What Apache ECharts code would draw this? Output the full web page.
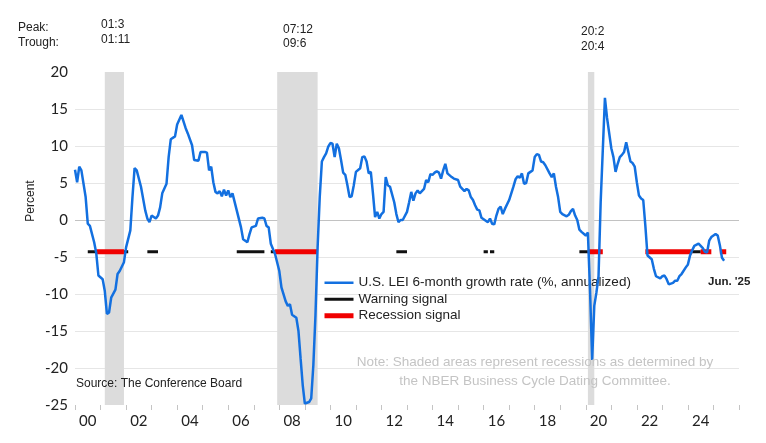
<!DOCTYPE html>
<html lang="en">
<head>
<meta charset="UTF-8">
<title>U.S. LEI 6-month growth rate</title>
<script src="https://cdn.jsdelivr.net/npm/echarts@6/dist/echarts.min.js"></script>
<style>
  html, body { margin: 0; padding: 0; background: #fff; }
  #chart { width: 766px; height: 443px; }
</style>
</head>
<body>
<div id="chart"></div>
<script>
// x axis labels, one per year (every other one shown)
const yearLabels = ['00','01','02','03','04','05','06','07','08','09','10','11','12',
                    '13','14','15','16','17','18','19','20','21','22','23','24','25'];

// U.S. LEI 6-month growth rate (%, annualized)
const leiMonths = [
  '2000-01','2000-02','2000-03','2000-04','2000-06','2000-07','2000-08','2000-10','2000-11','2000-12',
  '2001-02','2001-03','2001-04','2001-05','2001-06','2001-08','2001-09','2001-10','2001-12',
  '2002-01','2002-03','2002-04','2002-05','2002-06','2002-08','2002-10','2002-11','2002-12',
  '2003-01','2003-03','2003-04','2003-05','2003-06','2003-08','2003-09','2003-10','2003-12',
  '2004-01','2004-03','2004-05','2004-06','2004-08','2004-09','2004-11','2004-12',
  '2005-02','2005-03','2005-04','2005-05','2005-06','2005-07','2005-08','2005-09','2005-10','2005-11','2005-12',
  '2006-01','2006-02','2006-03','2006-05','2006-07','2006-08','2006-10','2006-11','2006-12',
  '2007-02','2007-03','2007-05','2007-06','2007-07','2007-08','2007-09','2007-11',
  '2008-01','2008-02','2008-04','2008-05','2008-06','2008-07','2008-09','2008-10','2008-11','2008-12',
  '2009-01','2009-03','2009-04','2009-05','2009-06','2009-07','2009-08','2009-09','2009-10','2009-11','2009-12',
  '2010-01','2010-02','2010-03','2010-04','2010-05','2010-06','2010-07','2010-08','2010-09','2010-10','2010-11','2010-12',
  '2011-01','2011-03','2011-04','2011-05','2011-06','2011-07','2011-08','2011-09','2011-10','2011-11','2011-12',
  '2012-01','2012-02','2012-03','2012-04','2012-05','2012-07','2012-08','2012-09','2012-10','2012-11',
  '2013-01','2013-02','2013-03','2013-04','2013-05','2013-06','2013-07','2013-09','2013-10','2013-11','2013-12',
  '2014-01','2014-02','2014-03','2014-04','2014-05','2014-06','2014-07','2014-08','2014-10','2014-11',
  '2015-01','2015-02','2015-03','2015-04','2015-05','2015-06','2015-07','2015-08','2015-09','2015-10','2015-11','2015-12',
  '2016-02','2016-03','2016-04','2016-05','2016-06','2016-07','2016-08','2016-09','2016-10','2016-11',
  '2017-01','2017-02','2017-03','2017-04','2017-05','2017-06','2017-07','2017-08','2017-09','2017-10','2017-11','2017-12',
  '2018-01','2018-02','2018-03','2018-04','2018-05','2018-06','2018-08','2018-09','2018-10','2018-11','2018-12',
  '2019-01','2019-02','2019-04','2019-05','2019-06','2019-07','2019-08','2019-09','2019-10','2019-11',
  '2020-01','2020-02','2020-03','2020-04','2020-05','2020-06','2020-07','2020-08','2020-10','2020-11',
  '2021-01','2021-02','2021-03','2021-04','2021-05','2021-06','2021-07','2021-08','2021-09','2021-10','2021-11','2021-12',
  '2022-01','2022-02','2022-03','2022-04','2022-05','2022-06','2022-08','2022-09','2022-10','2022-12',
  '2023-01','2023-02','2023-03','2023-04','2023-06','2023-07','2023-08','2023-09','2023-10','2023-12',
  '2024-01','2024-02','2024-03','2024-04','2024-06','2024-07','2024-08','2024-09','2024-10','2024-11','2024-12',
  '2025-02','2025-03','2025-04','2025-05','2025-06'
];
const leiValues = [
  6.8, 5.1, 7.2, 6.7, 3.1, -0.5, -0.8, -3.0, -4.5, -7.5,
  -8.0, -9.6, -12.7, -12.5, -10.5, -9.4, -7.3, -6.9, -5.7,
  -3.7, -1.4, 3.1, 7.0, 6.7, 4.5, 1.3, 0.2, -0.3,
  0.6, 0.2, 0.6, 1.7, 3.6, 4.9, 8.5, 10.9, 11.3,
  12.9, 14.2, 12.4, 11.7, 10.1, 8.1, 8.0, 9.2,
  9.2, 9.1, 6.7, 7.2, 5.1, 3.8, 3.6, 3.9, 3.2, 4.1, 3.3,
  4.0, 3.1, 3.6, 1.3, -1.0, -2.6, -3.0, -1.9, -1.0,
  -0.8, 0.2, 0.3, 0.2, -0.8, -1.0, -3.2, -4.6,
  -6.9, -9.1, -11.0, -11.6, -11.4, -12.8, -13.2, -15.0, -18.7, -22.3,
  -24.8, -24.6, -24.1, -19.6, -12.8, -3.7, 3.1, 7.9, 8.5, 9.0, 9.9,
  10.4, 10.3, 8.5, 10.3, 9.7, 8.1, 6.4, 6.1, 4.7, 3.1, 3.2, 4.7,
  6.5, 7.0, 8.5, 8.6, 7.9, 6.3, 6.5, 3.6, 0.4, 1.1, 0.2,
  0.8, 1.1, 5.8, 4.7, 4.5, 2.4, 0.8, -0.3, 0.0, 0.0,
  1.1, 2.4, 3.8, 2.6, 3.6, 4.0, 3.6, 4.2, 5.4, 5.1, 6.2,
  6.1, 6.4, 6.6, 6.4, 5.6, 6.7, 7.6, 6.3, 5.8, 5.6,
  5.4, 4.5, 4.2, 3.9, 4.2, 4.0, 3.1, 2.7, 2.0, 1.4, 1.3, 0.3,
  -0.1, -0.3, 0.2, -0.5, -0.6, 0.6, 1.5, 1.8, 0.8, 1.5,
  2.7, 3.6, 4.5, 5.5, 5.9, 5.7, 6.3, 4.9, 5.0, 6.3, 6.5, 6.7,
  8.5, 8.9, 8.8, 7.9, 7.8, 7.4, 6.3, 5.8, 6.3, 4.5, 3.1,
  1.1, 0.8, 0.5, 0.7, 1.2, 1.5, 0.6, 0.0, -1.3, -1.6,
  -2.1, -1.7, -9.5, -18.9, -11.6, -9.8, -7.6, 2.4, 16.5, 13.8,
  9.7, 8.5, 6.5, 7.6, 8.5, 8.8, 9.2, 10.5, 9.2, 7.9, 7.7, 7.2,
  5.1, 3.3, 2.9, 2.7, -0.8, -4.8, -5.3, -6.6, -7.6, -7.9,
  -7.6, -7.5, -8.0, -8.7, -8.5, -8.2, -8.2, -7.6, -7.3, -6.4,
  -6.0, -4.8, -4.1, -3.5, -3.2, -3.5, -3.8, -4.3, -4.4, -2.8, -2.3,
  -1.9, -2.1, -3.4, -5.1, -5.5
];

// NBER recessions (peak month, trough month)
const recessions = [['2001-03', '2001-11'], ['2007-12', '2009-06'], ['2020-02', '2020-04']];

// signal periods, drawn as bars at one level
const warningSignals = [
  ['2000-07', '2000-11'], ['2001-12', '2002-02'], ['2002-11', '2003-04'], ['2006-05', '2007-06'],
  ['2007-09', '2007-11'], ['2012-08', '2013-01'], ['2016-01', '2016-03'], ['2016-04', '2016-06'],
  ['2019-10', '2020-02'], ['2024-03', '2024-07']
];
const recessionSignals = [
  ['2000-11', '2001-12'], ['2007-11', '2009-07'], ['2020-02', '2020-09'],
  ['2022-05', '2024-03'], ['2024-07', '2024-12'], ['2025-04', '2025-07']
];
const signalLevel = -4.3;

function toYear(s) {
  const p = s.split('-');
  return +p[0] + (+p[1] - 1) / 12;
}

function segments(list) {
  const out = [];
  list.forEach(function (r) {
    out.push([toYear(r[0]), signalLevel], [toYear(r[1]), signalLevel], [toYear(r[1]), '-']);
  });
  return out;
}

const leiData = leiMonths.map(function (m, i) { return [toYear(m), leiValues[i]]; });

const chart = echarts.init(document.getElementById('chart'));

const txt = { fontFamily: 'Liberation Sans, Arial', fontSize: 12, fill: '#222' };
function label(x, y, text, extra) {
  return { type: 'text', left: x, top: y, z: 100, style: Object.assign({ text: text }, txt, extra || {}) };
}

const blue = '#1370e0';
const red = '#f00000';

const option = {
  animation: false,
  backgroundColor: '#fff',
  grid: { left: 75, right: 27, top: 72, bottom: 38 },
  legend: {
    data: [
      { name: 'U.S. LEI 6-month growth rate (%, annualized)', lineStyle: { color: blue, width: 2.5 } },
      { name: 'Warning signal', lineStyle: { color: '#111', width: 3 } },
      { name: 'Recession signal', lineStyle: { color: red, width: 5 } }
    ],
    orient: 'vertical',
    left: 322,
    top: 275,
    padding: 0,
    itemWidth: 29,
    itemHeight: 10,
    itemGap: 1,
    itemStyle: { opacity: 0 },
    textStyle: { fontFamily: 'Liberation Sans, Arial', fontSize: 13.5, color: '#222', lineHeight: 15.5 }
  },
  xAxis: [
    {
      type: 'category',
      data: yearLabels,
      boundaryGap: true,
      axisLine: { show: false, onZero: false },
      axisTick: { show: true, interval: 0, alignWithLabel: false, length: 5, lineStyle: { color: '#c4c4c4' } },
      axisLabel: { interval: 1, margin: 9, fontFamily: 'Lato', fontSize: 15, color: '#222' },
      splitLine: { show: false }
    },
    { type: 'value', min: 2000, max: 2026, show: false }
  ],
  yAxis: {
    type: 'value',
    min: -25,
    max: 20,
    interval: 5,
    axisLine: { show: false },
    axisTick: { show: false },
    axisLabel: { margin: 7, fontFamily: 'Lato', fontSize: 15, color: '#222' },
    splitLine: {
      lineStyle: {
        width: 1,
        color: ['rgba(0,0,0,0)', '#e6e6e6', '#e6e6e6', '#e6e6e6', '#e6e6e6', '#c2c2c2',
                '#e6e6e6', '#e6e6e6', '#e6e6e6', 'rgba(0,0,0,0)']
      }
    }
  },
  series: [
    {
      name: 'shade',
      type: 'line',
      xAxisIndex: 1,
      data: [],
      z: 1,
      markArea: {
        silent: true,
        itemStyle: { color: '#dcdcdc' },
        data: recessions.map(function (r) {
          return [{ xAxis: toYear(r[0]) }, { xAxis: toYear(r[1]) + 1 / 12 }];
        })
      }
    },
    {
      name: 'Warning signal',
      type: 'line',
      xAxisIndex: 1,
      data: segments(warningSignals),
      symbol: 'none',
      connectNulls: false,
      z: 3,
      lineStyle: { color: '#111', width: 3 },
      itemStyle: { color: '#111' }
    },
    {
      name: 'Recession signal',
      type: 'line',
      xAxisIndex: 1,
      data: segments(recessionSignals),
      symbol: 'none',
      connectNulls: false,
      z: 4,
      lineStyle: { color: red, width: 5 },
      itemStyle: { color: red }
    },
    {
      name: 'U.S. LEI 6-month growth rate (%, annualized)',
      type: 'line',
      xAxisIndex: 1,
      data: leiData,
      symbol: 'none',
      z: 5,
      lineStyle: { color: blue, width: 2.5 },
      itemStyle: { color: blue }
    }
  ],
  graphic: [
    label(18, 22, 'Peak:'),
    label(18, 37, 'Trough:'),
    label(101, 19, '01:3'),
    label(101, 34, '01:11'),
    label(283, 24, '07:12'),
    label(283, 38, '09:6'),
    label(581, 26, '20:2'),
    label(581, 41, '20:4'),
    {
      type: 'text', x: 31, y: 201, rotation: Math.PI / 2, z: 100,
      style: { text: 'Percent', fontFamily: 'Liberation Sans, Arial', fontSize: 12, fill: '#222', textAlign: 'center', textVerticalAlign: 'middle' }
    },
    label(76, 378, 'Source: The Conference Board'),
    label(708, 276, "Jun. '25", { fontWeight: 'bold', fontSize: 11.5 }),
    {
      type: 'text', x: 535, y: 353, z: 100,
      style: {
        text: 'Note: Shaded areas represent recessions as determined by\nthe NBER Business Cycle Dating Committee.',
        fontFamily: 'Liberation Sans, Arial', fontSize: 13.5, fill: '#c4c4c4', textAlign: 'center', lineHeight: 19
      }
    }
  ]
};

chart.setOption(option);
</script>
</body>
</html>
